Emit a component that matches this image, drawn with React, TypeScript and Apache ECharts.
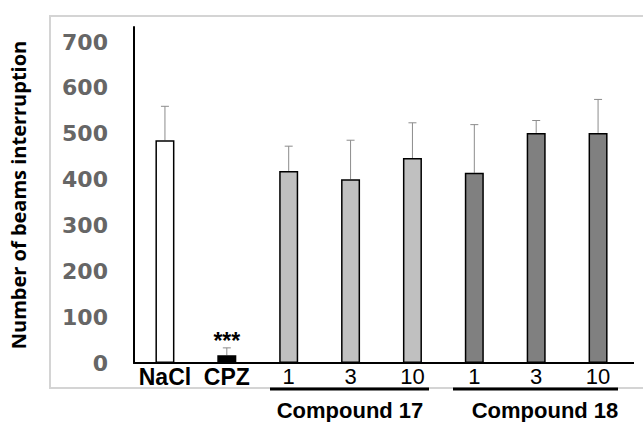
import React, { useEffect, useRef } from "react";
import * as echarts from "echarts";

const categories = ["NaCl", "CPZ", "C17-1", "C17-3", "C17-10", "C18-1", "C18-3", "C18-10"];
const tickLabels = ["NaCl", "CPZ", "1", "3", "10", "1", "3", "10"];
const means = [486, 17, 419, 401, 447, 415, 502, 502];
const errors = [74, 16, 54, 85, 77, 105, 27, 73];
const barColors = ["#ffffff", "#000000", "#c0c0c0", "#c0c0c0", "#c0c0c0", "#808080", "#808080", "#808080"];
const groupLabels = ["Compound 17", "Compound 18"];
const yTicks = [0, 100, 200, 300, 400, 500, 600, 700];

export default function App() {
  const ref = useRef<HTMLDivElement>(null);
  useEffect(() => {
    if (!ref.current) return;
    const chart = echarts.init(ref.current, null, { renderer: "svg" });
    const option: any = {
      animation: false,
      backgroundColor: "#ffffff",
      grid: { left: 133, top: 27, bottom: 59, width: 496, containLabel: false },
      xAxis: {
        type: "category",
        data: categories,
        axisLine: { show: true, lineStyle: { color: "#000", width: 2 } },
        axisTick: { show: false },
        axisLabel: {
          margin: 2,
          interval: 0,
          formatter: (v: string, i: number) =>
            i < 2 ? "{b|" + tickLabels[i] + "}" : "{n|" + tickLabels[i] + "}",
          rich: {
            b: { fontFamily: "Liberation Sans", fontWeight: "bold", fontSize: 23, color: "#000" },
            n: { fontFamily: "Liberation Sans", fontWeight: "normal", fontSize: 22, color: "#000" },
          },
        },
      },
      yAxis: {
        type: "value",
        min: 0,
        max: 733,
        interval: 100,
        name: "Number of beams interruption",
        nameLocation: "middle",
        nameGap: 106,
        nameRotate: 90,
        nameTextStyle: { fontFamily: "Open Sans", fontWeight: "bold", fontSize: 20, color: "#000" },
        axisLine: { show: true, lineStyle: { color: "#000", width: 2 } },
        axisTick: { show: false },
        splitLine: { show: false },
        axisLabel: {
          margin: 26,
          fontFamily: "DejaVu Sans",
          fontWeight: "bold",
          fontSize: 22,
          color: "#666666",
          formatter: (v: number) => (yTicks.indexOf(v) >= 0 ? String(v) : ""),
        },
      },
      series: [
        {
          type: "bar",
          barWidth: 19,
          data: means.map((m, i) => ({
            value: m,
            itemStyle: { color: barColors[i], borderColor: "#000", borderWidth: 1.5 },
            label:
              i === 1
                ? {
                    show: true,
                    position: "top",
                    distance: 3,
                    formatter: "***",
                    fontFamily: "Liberation Sans",
                    fontWeight: "bold",
                    fontSize: 23,
                    color: "#000",
                  }
                : { show: false },
          })),
          z: 2,
        },
        {
          type: "custom",
          data: means.map((m, i) => [i, m, m + errors[i]]),
          z: 1,
          renderItem: (params: any, api: any) => {
            const x = api.value(0);
            const lo = api.coord([x, api.value(1)]);
            const hi = api.coord([x, api.value(2)]);
            const cap = 4;
            return {
              type: "group",
              children: [
                {
                  type: "line",
                  shape: { x1: lo[0], y1: lo[1], x2: hi[0], y2: hi[1] },
                  style: { stroke: "#8c8c8c", lineWidth: 1 },
                },
                {
                  type: "line",
                  shape: { x1: hi[0] - cap, y1: hi[1], x2: hi[0] + cap, y2: hi[1] },
                  style: { stroke: "#8c8c8c", lineWidth: 1 },
                },
              ],
            };
          },
        },
      ],
      graphic: [
        {
          type: "rect",
          shape: { x: 50, y: 16, width: 620, height: 372 },
          style: { fill: "none", stroke: "#d4d4d4", lineWidth: 2 },
          z: -10,
          silent: true,
        },
        {
          type: "line",
          shape: { x1: 629, y1: 363, x2: 634, y2: 363 },
          style: { stroke: "#000", lineWidth: 2 },
        },
        {
          type: "line",
          shape: { x1: 270, y1: 389, x2: 429, y2: 389 },
          style: { stroke: "#000", lineWidth: 3 },
        },
        {
          type: "line",
          shape: { x1: 453, y1: 389, x2: 618, y2: 389 },
          style: { stroke: "#000", lineWidth: 3 },
        },
        {
          type: "text",
          x: 350,
          y: 410,
          style: {
            text: groupLabels[0],
            fontFamily: "Liberation Sans",
            fontWeight: "bold",
            fontSize: 22,
            fill: "#000",
            textAlign: "center",
            textVerticalAlign: "middle",
          },
        },
        {
          type: "text",
          x: 545,
          y: 410,
          style: {
            text: groupLabels[1],
            fontFamily: "Liberation Sans",
            fontWeight: "bold",
            fontSize: 22,
            fill: "#000",
            textAlign: "center",
            textVerticalAlign: "middle",
          },
        },
      ],
    };
    chart.setOption(option);
    return () => chart.dispose();
  }, []);
  return (
    <div
      ref={ref}
      style={{ position: "fixed", left: 0, top: 0, width: 643, height: 422, background: "#fff" }}
    />
  );
}
